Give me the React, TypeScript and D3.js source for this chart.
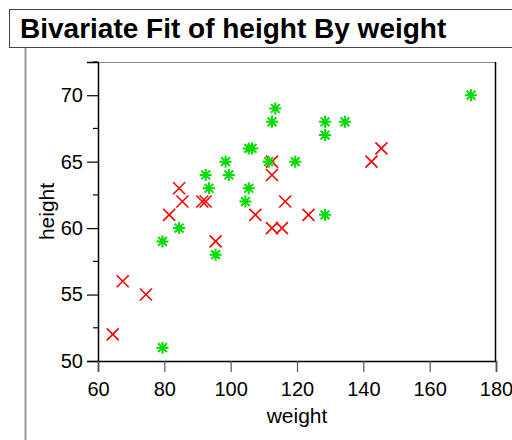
import React, { useEffect, useRef } from 'react';
import * as d3 from 'd3';

// Big Class style data
const femaleWeight = [64, 67, 74, 81, 84, 85, 91, 92, 95, 107, 112, 112, 112, 115, 116, 123, 142, 145];
const femaleHeight = [52, 56, 55, 61, 63, 62, 62, 62, 59, 61, 65, 64, 60, 60, 62, 61, 65, 66];
const maleWeight = [79, 84, 95, 79, 92, 93, 98, 99, 104, 105, 105, 106, 111, 112, 113, 119, 128, 128, 128, 134, 172];
const maleHeight = [59, 60, 58, 51, 64, 63, 65, 64, 62, 63, 66, 66, 65, 68, 69, 65, 68, 67, 61, 68, 70];
const xTicks = [60, 80, 100, 120, 140, 160, 180];
const yTicks = [50, 55, 60, 65, 70];
const yMinorTicks = [52.5, 57.5, 62.5, 67.5, 72.5];

const App: React.FC = () => {
  const svgRef = useRef<SVGSVGElement>(null);
  const width = 512;
  const height = 440;

  useEffect(() => {
    if (!svgRef.current) return;
    const svg = d3.select(svgRef.current);
    svg.selectAll('*').remove();

    const font = 'Liberation Sans, Arial, sans-serif';
    const left = 98, right = 496, top = 62, bottom = 361;

    const x = d3.scaleLinear().domain([60, 180]).range([left, right]);
    const y = d3.scaleLinear().domain([50, 72.5]).range([bottom, top]);

    // Title box
    svg.append('rect')
      .attr('x', 9.5).attr('y', 9.5)
      .attr('width', 520).attr('height', 38)
      .attr('fill', 'white')
      .attr('stroke', '#444')
      .attr('stroke-width', 1);

    svg.append('text')
      .attr('x', 20).attr('y', 38)
      .style('font-family', font)
      .style('font-size', '28px')
      .style('font-weight', 'bold')
      .style('fill', '#000')
      .text('Bivariate Fit of height By weight');

    // outline gutter line
    svg.append('line')
      .attr('x1', 25.5).attr('x2', 25.5)
      .attr('y1', 48).attr('y2', height)
      .attr('stroke', '#999')
      .attr('stroke-width', 2);

    // Plot frame
    svg.append('line')
      .attr('x1', left).attr('x2', right).attr('y1', top + 0.5).attr('y2', top + 0.5)
      .attr('stroke', '#888').attr('stroke-width', 1);
    svg.append('line')
      .attr('x1', right - 0.5).attr('x2', right - 0.5).attr('y1', top).attr('y2', bottom)
      .attr('stroke', '#000').attr('stroke-width', 1.5);

    // Y axis
    const yAxis = svg.append('g')
      .attr('transform', `translate(${left},0)`)
      .call(d3.axisLeft(y).tickValues(yTicks).tickSize(11).tickPadding(4));
    yAxis.select('.domain').attr('stroke', '#000').attr('stroke-width', 1.5);
    yAxis.selectAll('.tick line').attr('stroke', '#000').attr('stroke-width', 1.2);
    yAxis.selectAll('text')
      .style('font-family', font)
      .style('font-size', '20px')
      .style('fill', '#000');

    svg.append('g')
      .attr('transform', `translate(${left},0)`)
      .selectAll('line')
      .data(yMinorTicks)
      .enter().append('line')
      .attr('x1', -5).attr('x2', 0)
      .attr('y1', d => y(d)).attr('y2', d => y(d))
      .attr('stroke', '#000').attr('stroke-width', 1.2);

    // X axis
    const xAxis = svg.append('g')
      .attr('transform', `translate(0,${bottom})`)
      .call(d3.axisBottom(x).tickValues(xTicks).tickSize(11).tickPadding(10));
    xAxis.select('.domain').attr('stroke', '#000').attr('stroke-width', 1.5);
    xAxis.selectAll('.tick line').attr('stroke', '#555').attr('stroke-width', 1.2);
    xAxis.selectAll('text')
      .style('font-family', font)
      .style('font-size', '20px')
      .style('fill', '#000');

    // Axis titles
    svg.append('text')
      .attr('x', 297)
      .attr('y', 423)
      .attr('text-anchor', 'middle')
      .style('font-family', font)
      .style('font-size', '21px')
      .text('weight');

    svg.append('text')
      .attr('transform', `translate(54,${(top + bottom) / 2}) rotate(-90)`)
      .attr('text-anchor', 'middle')
      .style('font-family', font)
      .style('font-size', '21px')
      .text('height');

    // Female markers: red X
    const fem = femaleWeight.map((w, i) => ({ w, h: femaleHeight[i] }));
    const s = 6;
    svg.append('g')
      .selectAll('path')
      .data(fem)
      .enter().append('path')
      .attr('d', d => {
        const cx = x(d.w) + 1.5, cy = y(d.h);
        return `M${cx - s},${cy - s}L${cx + s},${cy + s}M${cx - s},${cy + s}L${cx + s},${cy - s}`;
      })
      .attr('stroke', '#ff0000')
      .attr('stroke-width', 1.6)
      .attr('fill', 'none');

    // Male markers: green asterisk
    const male = maleWeight.map((w, i) => ({ w, h: maleHeight[i] }));
    const r = 6, r2 = 4.4;
    svg.append('g')
      .selectAll('path')
      .data(male)
      .enter().append('path')
      .attr('d', d => {
        const cx = x(d.w) + 1.5, cy = y(d.h);
        return `M${cx},${cy - r}L${cx},${cy + r}M${cx - r},${cy}L${cx + r},${cy}` +
          `M${cx - r2},${cy - r2}L${cx + r2},${cy + r2}M${cx - r2},${cy + r2}L${cx + r2},${cy - r2}`;
      })
      .attr('stroke', '#00dd00')
      .attr('stroke-width', 2)
      .attr('fill', 'none');
  }, []);

  return (
    <svg
      ref={svgRef}
      width={width}
      height={height}
      style={{ position: 'absolute', left: 0, top: 0, background: 'white' }}
    />
  );
};

export default App;
